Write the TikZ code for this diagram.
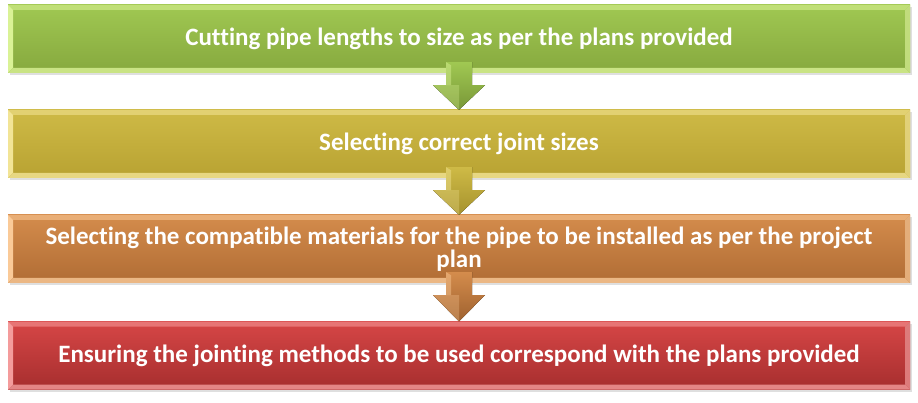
\documentclass[tikz,border=0pt]{standalone}
\usepackage{fontspec}
\setmainfont{Carlito}[Ligatures=NoCommon]
\usetikzlibrary{calc,shadows}

\definecolor{greentop}{RGB}{160,200,82}
\definecolor{greenbot}{RGB}{134,168,62}
\definecolor{greenhl}{RGB}{218,242,150}
\definecolor{yellowtop}{RGB}{206,186,70}
\definecolor{yellowbot}{RGB}{184,162,50}
\definecolor{yellowhl}{RGB}{242,228,150}
\definecolor{orangetop}{RGB}{212,140,76}
\definecolor{orangebot}{RGB}{176,108,52}
\definecolor{orangehl}{RGB}{250,202,152}
\definecolor{redtop}{RGB}{214,70,70}
\definecolor{redbot}{RGB}{166,46,46}
\definecolor{redhl}{RGB}{244,156,156}

\tikzset{
  stepbox/.style={minimum width=902pt, minimum height=68pt, inner sep=0pt,
    align=center, text=white, font=\fontsize{25}{23}\selectfont\bfseries,
    drop shadow={opacity=0.25, shadow xshift=1.5pt, shadow yshift=-2.5pt}},
  bevel/.style 2 args={top color=#1top, bottom color=#1bot,
    path picture={
      \coordinate (sw) at (path picture bounding box.south west);
      \coordinate (ne) at (path picture bounding box.north east);
      \coordinate (nw) at (sw|-ne);
      \coordinate (se) at (ne|-sw);
      \fill[#2!55!#1top] (nw) -- (ne) -- ++(-5pt,-5pt) -- ($(nw)+(5pt,-5pt)$) -- cycle;
      \fill[#2] (nw) -- (sw) -- ++(5pt,5pt) -- ($(nw)+(5pt,-5pt)$) -- cycle;
      \fill[#2!80!#1bot] (sw) -- (se) -- ++(-5pt,5pt) -- ($(sw)+(5pt,5pt)$) -- cycle;
      \fill[#2!70!#1bot] (se) -- (ne) -- ++(-5pt,-5pt) -- ($(se)+(-5pt,5pt)$) -- cycle;
    }},
}

% block arrow from the bottom of #1 to the top of #2
\newcommand{\linkarrow}[3]{%
  \fill[top color=#3top, bottom color=#3bot!90!black]
    ($(#1.south)+(-13pt,11pt)$) -- ($(#1.south)+(13pt,11pt)$)
    -- ($(#1.south)+(13pt,-12pt)$) -- ($(#1.south)+(26pt,-12pt)$)
    -- (#2.north) -- ($(#1.south)+(-26pt,-12pt)$)
    -- ($(#1.south)+(-13pt,-12pt)$) -- cycle;
  \fill[#3hl, opacity=0.45]
    ($(#1.south)+(-13pt,11pt)$) -- ($(#1.south)+(-8pt,8pt)$)
    -- ($(#1.south)+(-8pt,-12pt)$) -- ($(#1.south)+(-13pt,-12pt)$) -- cycle;
  \fill[#3hl, opacity=0.3]
    ($(#1.south)+(-26pt,-12pt)$) -- ($(#1.south)+(0pt,-12pt)$)
    -- (#2.north) -- cycle;
}

\begin{document}
\begin{tikzpicture}[x=1pt, y=-1pt]
  \useasboundingbox (0,0) rectangle (918,403);
  \node[stepbox, bevel={green}{greenhl}] (step1) at (459,39)
    {Cutting pipe lengths to size as per the plans provided};
  \node[stepbox, bevel={yellow}{yellowhl}] (step2) at (459,144)
    {Selecting correct joint sizes};
  \node[stepbox, bevel={orange}{orangehl}] (step3) at (459,249)
    {Selecting the compatible materials for the pipe to be installed as per the project\\plan};
  \node[stepbox, bevel={red}{redhl}] (step4) at (459,355.5)
    {Ensuring the jointing methods to be used correspond with the plans provided};
  \linkarrow{step1}{step2}{green}
  \linkarrow{step2}{step3}{yellow}
  \linkarrow{step3}{step4}{orange}
\end{tikzpicture}
\end{document}
